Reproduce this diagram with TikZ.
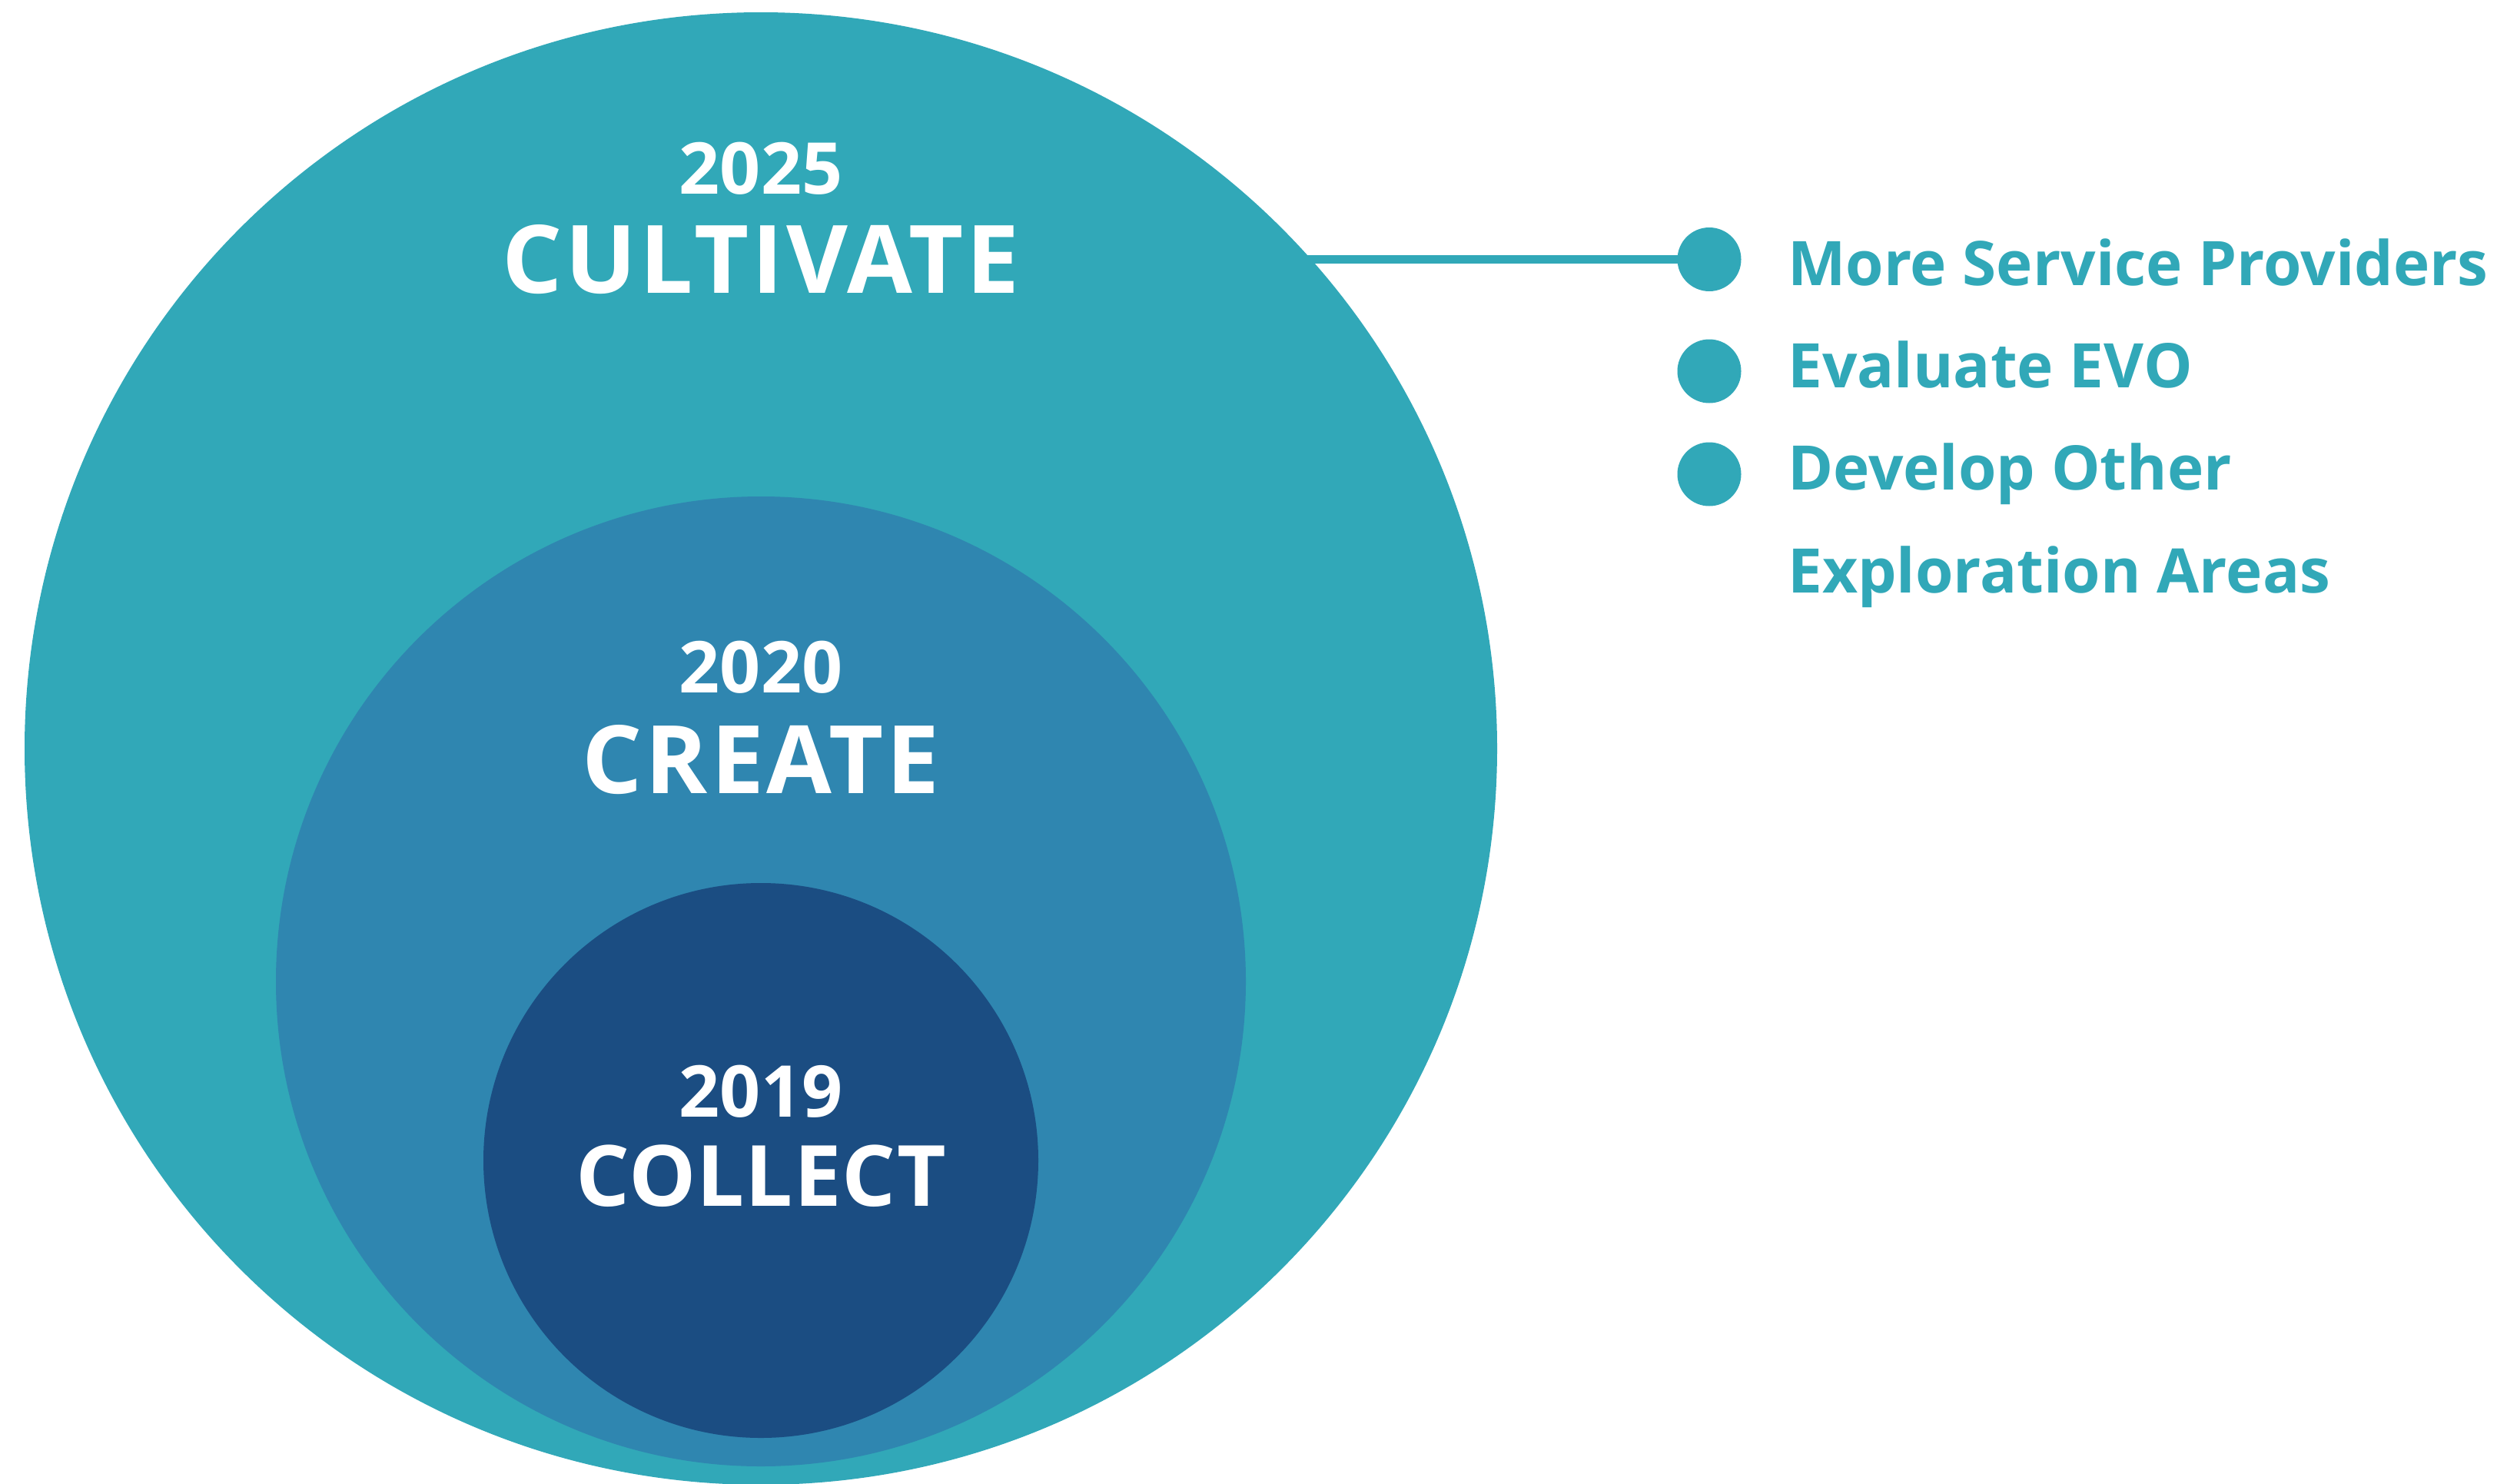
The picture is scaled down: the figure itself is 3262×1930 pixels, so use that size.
\documentclass[tikz,border=0pt]{standalone}
\usepackage{fontspec}
\setmainfont{Open Sans}
\definecolor{outerc}{HTML}{31A8B8}
\definecolor{midc}{HTML}{2F86B0}
\definecolor{innerc}{HTML}{1B4D82}
\begin{document}
\begin{tikzpicture}[x=1pt,y=-1pt,
  ring/.style={circle,inner sep=0pt,outer sep=0pt,draw=none},
  yeartxt/.style={anchor=base,inner sep=0pt,text=white,font=\bfseries\fontsize{93}{93}\selectfont},
  phasetxt/.style={anchor=base,inner sep=0pt,text=white,font=\bfseries\fontsize{123}{123}\selectfont\addfontfeature{LetterSpace=3.2}},
  dotc/.style={circle,fill=outerc,inner sep=0pt,minimum size=83pt},
  itemtxt/.style={anchor=base west,inner sep=0pt,text=outerc,font=\bfseries\fontsize{80}{80}\selectfont},
  link/.style={draw=outerc,line width=11pt}]
\useasboundingbox (0,0) rectangle (3262,1930);
\clip (0,0) rectangle (3262,1930);
\node[ring,fill=outerc,minimum size=1916pt] (outer) at (990,974) {};
\node[dotc] (dot1) at (2224,337.5) {};
\node[dotc] (dot2) at (2224,483) {};
\node[dotc] (dot3) at (2224,617) {};
\draw[link] (outer.center |- dot1.center) -- (dot1.center);
\node[ring,fill=midc,minimum size=1262pt] (mid) at (990,1277) {};
\node[ring,fill=innerc,minimum size=722pt] (inner) at (990,1510) {};
\node[yeartxt] (y2025) at (990,252) {2025};
\node[phasetxt] (cultivate) at (990,381) {CULTIVATE};
\node[yeartxt] (y2020) at (990,901) {2020};
\node[phasetxt] (create) at (990,1032) {CREATE};
\node[yeartxt] (y2019) at (990,1453) {2019};
\node[phasetxt,font=\bfseries\fontsize{110}{110}\selectfont\addfontfeature{LetterSpace=1}] (collect) at (990,1569) {COLLECT};
\node[itemtxt] (t1) at (2326,371) {More Service Providers};
\node[itemtxt] (t2) at (2326,504) {Evaluate EVO};
\node[itemtxt] (t3) at (2326,637.5) {Develop Other};
\node[itemtxt] (t4) at (2326,771) {Exploration Areas};
\end{tikzpicture}
\end{document}
